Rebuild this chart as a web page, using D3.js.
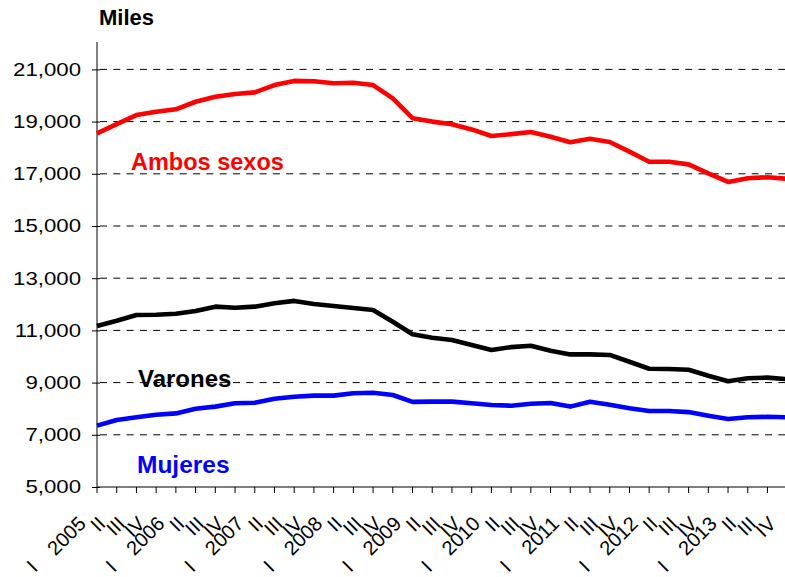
<!DOCTYPE html>
<html>
<head>
<meta charset="utf-8">
<script src="https://cdn.jsdelivr.net/npm/d3@7"></script>
<style>
  html, body { margin: 0; padding: 0; background: #fff; }
  svg { display: block; }
  text { font-family: "Liberation Sans", Arial, sans-serif; }
</style>
</head>
<body>
<svg id="chart" width="785" height="577"></svg>
<script>
// ---- Data ----
const years = ["2005", "2006", "2007", "2008", "2009", "2010", "2011", "2012", "2013"];
const quarterNames = ["I", "II", "III", "IV"];
const yTicks = [5000, 7000, 9000, 11000, 13000, 15000, 17000, 19000, 21000];

const ambosSexos = [18550, 18900, 19250, 19380, 19470, 19760, 19950, 20060, 20120, 20400, 20560, 20545,
                    20470, 20490, 20400, 19890, 19130, 19000, 18900, 18700, 18450, 18520, 18600, 18420,
                    18210, 18345, 18220, 17850, 17460, 17460, 17360, 17020, 16690, 16830, 16870, 16810];
const varones    = [11170, 11370, 11590, 11600, 11640, 11740, 11910, 11870, 11910, 12040, 12130, 12010,
                    11935, 11860, 11780, 11330, 10850, 10720, 10630, 10440, 10250, 10360, 10410, 10220,
                    10080, 10080, 10060, 9800, 9530, 9520, 9490, 9260, 9050, 9165, 9190, 9130];
const mujeres    = [7350, 7570, 7670, 7770, 7820, 8000, 8080, 8210, 8230, 8380, 8460, 8500,
                    8500, 8590, 8610, 8525, 8260, 8270, 8270, 8210, 8140, 8115, 8190, 8220,
                    8080, 8270, 8150, 8015, 7910, 7910, 7870, 7730, 7605, 7670, 7690, 7670];

const series = [
  { name: "Ambos sexos", values: ambosSexos, color: "#ff0000", lx: 131, ly: 170, fs: 23.5 },
  { name: "Varones",     values: varones,    color: "#000000", lx: 138, ly: 387, fs: 24 },
  { name: "Mujeres",     values: mujeres,    color: "#0000ff", lx: 137, ly: 473, fs: 24.5 }
];

// categories built from years x quarters
const categories = [];
years.forEach(y => quarterNames.forEach(q => categories.push({ year: y, q })));

// ---- Layout ----
const svg = d3.select("#chart");
const x0 = 97, xStep = 19.72, yBottom = 487;
const x = d3.scaleLinear().domain([0, categories.length - 1]).range([x0, x0 + xStep * (categories.length - 1)]);
const y = d3.scaleLinear().domain([5000, 22000]).range([yBottom, 43.3]);

// gridlines
svg.append("g").selectAll("line")
  .data(yTicks.filter(d => d > 5000))
  .join("line")
  .attr("x1", x0 + 3).attr("x2", 785)
  .attr("y1", d => y(d)).attr("y2", d => y(d))
  .attr("stroke", "#000").attr("stroke-width", 1)
  .attr("stroke-dasharray", "7,6.3");

// y axis
const yAxis = d3.axisLeft(y).tickValues(yTicks).tickSize(5).tickPadding(12)
  .tickFormat(d3.format(",d"));
const gy = svg.append("g").attr("transform", `translate(${x0},0)`).call(yAxis);
gy.select(".domain").attr("d", `M0,42V${yBottom}`).attr("stroke", "#000");
gy.selectAll(".tick line").attr("x1", 3).attr("x2", -5).attr("stroke", "#000");
gy.selectAll(".tick text")
  .attr("font-size", 18.5).attr("fill", "#000").attr("x", -16)
  .attr("font-family", "Liberation Sans, Arial, sans-serif")
  .each(function () {
    const w = this.getComputedTextLength();
    this.setAttribute("textLength", w * 1.2);
    this.setAttribute("lengthAdjust", "spacingAndGlyphs");
  });

// x axis
const gx = svg.append("g");
gx.append("line").attr("x1", x0).attr("x2", 790).attr("y1", yBottom).attr("y2", yBottom)
  .attr("stroke", "#000").attr("stroke-width", 1);
gx.selectAll("line.tk").data(categories).join("line").attr("class", "tk")
  .attr("x1", (d, i) => x(i)).attr("x2", (d, i) => x(i))
  .attr("y1", yBottom).attr("y2", yBottom + 6)
  .attr("stroke", "#000");

gx.selectAll("text.ql").data(categories).join("text").attr("class", "ql")
  .attr("transform", (d, i) => `translate(${x(i) - 10},${yBottom + 38}) rotate(-45)`)
  .attr("text-anchor", "end")
  .attr("font-size", 20)
  .attr("fill", "#000")
  .text(d => d.q === "I" ? d.year : d.q);

gx.selectAll("text.q1").data(categories.map((d, i) => ({ d, i })).filter(o => o.d.q === "I"))
  .join("text").attr("class", "q1")
  .attr("transform", o => `translate(${x(o.i) - 60},${yBottom + 84}) rotate(-45)`)
  .attr("text-anchor", "middle")
  .attr("font-size", 20)
  .attr("fill", "#000")
  .text("I");

// lines
const line = d3.line().x((d, i) => x(i)).y(d => y(d));
svg.append("g").selectAll("path")
  .data(series)
  .join("path")
  .attr("d", d => line(d.values))
  .attr("fill", "none")
  .attr("stroke", d => d.color)
  .attr("stroke-width", 4.6)
  .attr("stroke-linejoin", "round");

// series labels
svg.append("g").selectAll("text")
  .data(series)
  .join("text")
  .attr("x", d => d.lx).attr("y", d => d.ly)
  .attr("font-size", d => d.fs).attr("font-weight", "bold")
  .attr("fill", d => d.color)
  .text(d => d.name);

// unit title
svg.append("text").attr("x", 99).attr("y", 25)
  .attr("font-size", 22).attr("font-weight", "bold").attr("fill", "#000")
  .text("Miles");
</script>
</body>
</html>
